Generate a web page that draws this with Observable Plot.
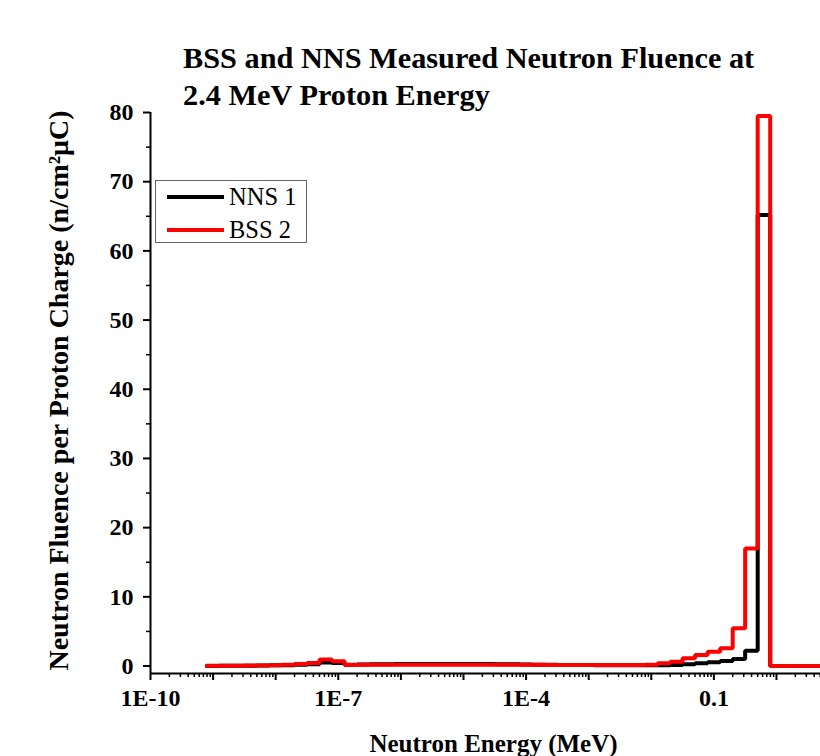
<!DOCTYPE html>
<html>
<head>
<meta charset="utf-8">
<script src="https://cdn.jsdelivr.net/npm/d3@7"></script>
<script src="https://cdn.jsdelivr.net/npm/@observablehq/plot@0.6"></script>
<style>
  html, body { margin: 0; padding: 0; background: #fff; }
  #wrap { position: relative; width: 820px; height: 756px; overflow: hidden;
          font-family: "Liberation Serif", "Times New Roman", serif; color: #000; }
  #chart { position: absolute; left: 0; top: 0; }
  #title { position: absolute; left: 183px; top: 40px; font-size: 30.3px; font-weight: bold;
           line-height: 37px; white-space: nowrap; }
  #legend { position: absolute; left: 155px; top: 180px; width: 152px; height: 63px;
            border: 1px solid #666; box-sizing: border-box; background: #fff; }
  .lg-line { position: absolute; left: 11px; width: 57px; height: 4px; }
  .lg-text { position: absolute; left: 73px; font-size: 24.5px; line-height: 24px; white-space: nowrap; }
</style>
</head>
<body>
<div id="wrap">
  <div id="chart"></div>
  <div id="title"></div>
  <div id="legend"></div>
</div>
<script>
// ---- data ----
const titleLines = ["BSS and NNS Measured Neutron Fluence at", "2.4 MeV Proton Energy"];
const xTitle = "Neutron Energy (MeV)";
const yTitle = "Neutron Fluence per Proton Charge (n/cm\u00B2\u03BCC)";
const seriesNames = ["NNS 1", "BSS 2"];
const seriesColors = ["#000000", "#ff0000"];

// lower bin edges (MeV); last entry is the upper edge of the final bin
const binEdgesMeV = [7.94e-10, 1.26e-9, 2.00e-9, 3.16e-9, 5.01e-9, 7.94e-9, 1.26e-8, 2.00e-8, 3.16e-8, 5.01e-8,
  7.94e-8, 1.26e-7, 2.00e-7, 3.16e-7, 5.01e-7, 7.94e-7, 1.26e-6, 2.00e-6, 3.16e-6, 5.01e-6,
  7.94e-6, 1.26e-5, 2.00e-5, 3.16e-5, 5.01e-5, 7.94e-5, 1.26e-4, 2.00e-4, 3.16e-4, 5.01e-4,
  7.94e-4, 1.26e-3, 2.00e-3, 3.16e-3, 5.01e-3, 7.94e-3, 0.0126, 0.0200, 0.0316, 0.0501,
  0.0794, 0.126, 0.200, 0.316, 0.501, 0.794];
const nns1 = [0.02, 0.03, 0.04, 0.05, 0.07, 0.10, 0.13, 0.18, 0.25, 0.50,
  0.45, 0.20, 0.22, 0.24, 0.26, 0.28, 0.30, 0.31, 0.31, 0.31,
  0.30, 0.29, 0.28, 0.26, 0.24, 0.22, 0.20, 0.18, 0.16, 0.15,
  0.14, 0.13, 0.12, 0.11, 0.10, 0.10, 0.10, 0.14, 0.25, 0.39,
  0.53, 0.72, 1.01, 2.20, 65.2];
const bss2 = [0.03, 0.04, 0.05, 0.06, 0.08, 0.12, 0.20, 0.30, 0.42, 0.95,
  0.70, 0.16, 0.17, 0.18, 0.18, 0.19, 0.19, 0.19, 0.19, 0.19,
  0.19, 0.19, 0.18, 0.18, 0.18, 0.17, 0.17, 0.16, 0.16, 0.15,
  0.15, 0.14, 0.14, 0.14, 0.16, 0.20, 0.39, 0.62, 1.11, 1.59,
  2.07, 2.56, 5.45, 17.0, 79.5];
const xMaxMeV = 5.05;

const xLabelValues = [1e-10, 1e-7, 1e-4, 0.1];
const xTickLabels = ["1E-10", "1E-7", "1E-4", "0.1"];
const yTickValues = [0, 10, 20, 30, 40, 50, 60, 70, 80];
const yTickLabels = ["0", "10", "20", "30", "40", "50", "60", "70", "80"];
const yMinorValues = [5, 15, 25, 35, 45, 55, 65, 75];

// ---- build ----
function rows(vals) {
  const r = vals.map((v, i) => ({E: binEdgesMeV[i], v}));
  r.push({E: binEdgesMeV[binEdgesMeV.length - 1], v: 0});
  r.push({E: xMaxMeV, v: 0});
  return r;
}
const xMajor = [];
const xMinor = [];
for (let p = -10; p <= 0; p++) {
  xMajor.push(Math.pow(10, p));
  for (let m = 2; m <= 9; m++) {
    const t = m * Math.pow(10, p);
    if (t <= xMaxMeV) xMinor.push(t);
  }
}
const yMin = -1.08;
const near = (a, b) => Math.abs(Math.log10(a) - Math.log10(b)) < 1e-6;
const xLab = d => { const i = xLabelValues.findIndex(v => near(v, d)); return i < 0 ? "" : xTickLabels[i]; };
const yLab = d => { const i = yTickValues.indexOf(d); return i < 0 ? "" : yTickLabels[i]; };

const plot = Plot.plot({
  width: 820, height: 756,
  marginLeft: 150, marginRight: 0, marginTop: 112, marginBottom: 83,
  style: {fontFamily: "'Liberation Serif', 'Times New Roman', serif", background: "transparent", overflow: "visible", color: "black"},
  x: {type: "log", domain: [1e-10, xMaxMeV]},
  y: {domain: [yMin, 80]},
  marks: [
    Plot.axisX({ticks: xMinor, tickSize: 4, strokeWidth: 1.5, tickFormat: () => "", label: null}),
    Plot.axisX({ticks: xMajor, tickSize: 7, strokeWidth: 2, tickPadding: 8, tickFormat: xLab,
      fontSize: 24, fontWeight: "bold", label: null}),
    Plot.axisY({ticks: yMinorValues, tickSize: 4, strokeWidth: 1.5, tickFormat: () => "", label: null}),
    Plot.axisY({ticks: yTickValues, tickSize: 7, strokeWidth: 2, tickPadding: 10, tickFormat: yLab,
      fontSize: 24, fontWeight: "bold", label: null}),
    Plot.ruleX([1e-10], {stroke: "black", strokeWidth: 2}),
    Plot.ruleY([yMin], {stroke: "black", strokeWidth: 2}),
    Plot.line(rows(nns1), {x: "E", y: "v", curve: "step-after", stroke: seriesColors[0], strokeWidth: 4, strokeLinejoin: "miter"}),
    Plot.line(rows(bss2), {x: "E", y: "v", curve: "step-after", stroke: seriesColors[1], strokeWidth: 4, strokeLinejoin: "miter"}),
    Plot.text([xTitle], {text: d => d, frameAnchor: "bottom", dx: 8, dy: 78, fontSize: 25, fontWeight: "bold", fill: "black"}),
    Plot.text([yTitle], {text: d => d, frameAnchor: "left", textAnchor: "middle", rotate: -90, dx: -91, dy: -2.5, fontSize: 28, fontWeight: "bold", fill: "black"})
  ]
});
document.getElementById("chart").appendChild(plot);

// title
const t = document.getElementById("title");
titleLines.forEach(s => { const d = document.createElement("div"); d.textContent = s; t.appendChild(d); });

// legend
const lg = document.getElementById("legend");
const rowY = [16, 49];
seriesNames.forEach((name, i) => {
  const ln = document.createElement("div");
  ln.className = "lg-line";
  ln.style.top = (rowY[i] - 2) + "px";
  ln.style.background = seriesColors[i];
  lg.appendChild(ln);
  const tx = document.createElement("div");
  tx.className = "lg-text";
  tx.style.top = (rowY[i] - 12) + "px";
  tx.textContent = name;
  lg.appendChild(tx);
});
</script>
</body>
</html>
